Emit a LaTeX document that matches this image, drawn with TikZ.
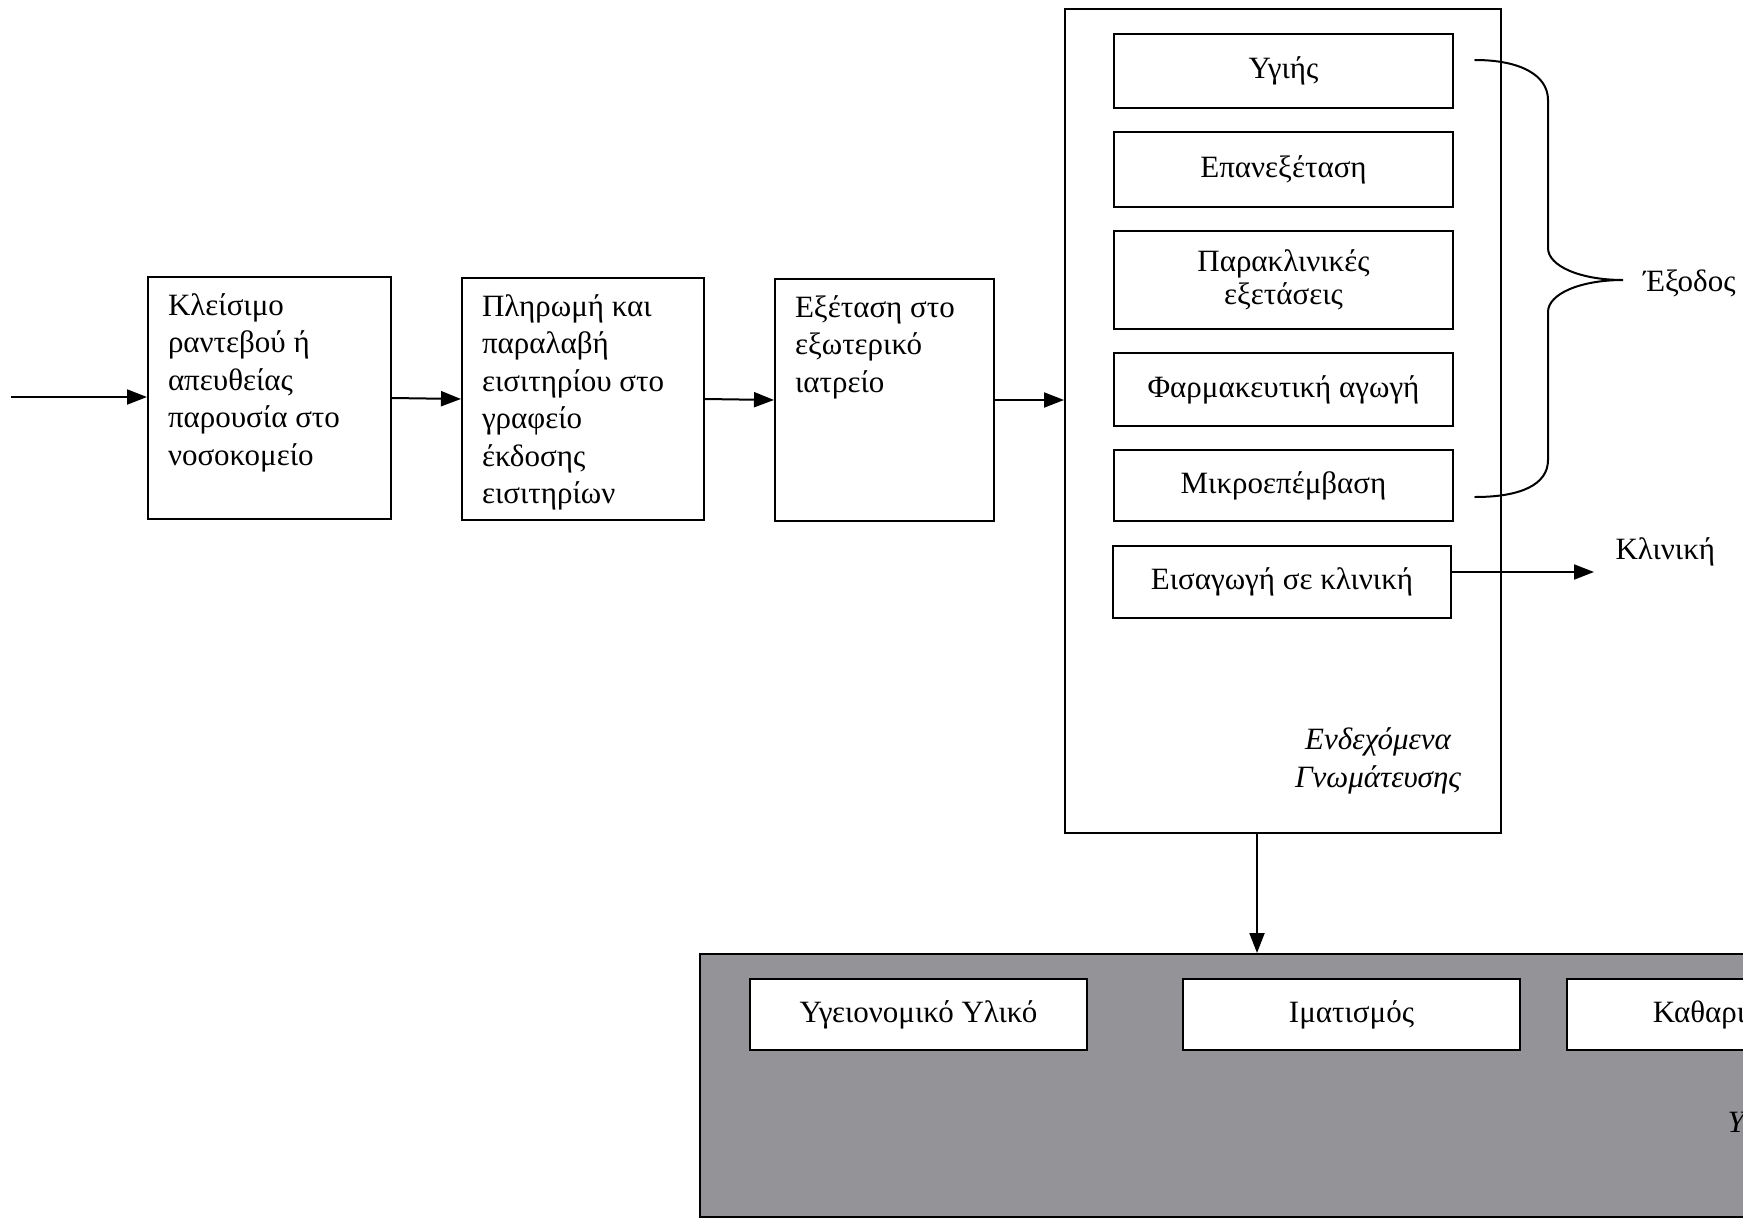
\documentclass[tikz,border=0pt]{standalone}
\usepackage{fontspec}
\setmainfont{Liberation Serif}
\usetikzlibrary{arrows.meta}
\definecolor{panelgrey}{RGB}{148,148,152}
\tikzset{
  txt/.style={font=\fontsize{31}{37.5}\selectfont},
  stepbox/.style={draw, line width=2pt, fill=white, inner xsep=20pt, inner ysep=12pt, txt},
  optbox/.style={draw, line width=2pt, fill=white, inner sep=0pt, minimum width=339pt, align=center, txt},
  flow/.style={line width=2pt, -{Triangle[length=20pt,width=15pt]}},
  brace/.style={line width=2pt, line cap=round},
}
\newcommand{\stepbody}[2]{\parbox[c][218pt][t]{#1}{\raggedright\strut #2}}
\begin{document}
\begin{tikzpicture}[x=1pt,y=-1pt]
\useasboundingbox (0,0) rectangle (1743,1218);
\clip (0,0) rectangle (1743,1218);

% process steps
\node[stepbox] (book) at (269.5,398) {\stepbody{203pt}{Κλείσιμο\\ραντεβού ή\\απευθείας\\παρουσία στο\\νοσοκομείο}};
\node[stepbox] (pay) at (583,399) {\stepbody{202pt}{Πληρωμή και\\παραλαβή\\εισιτηρίου στο\\γραφείο\\έκδοσης\\εισιτηρίων}};
\node[stepbox] (exam) at (884.5,400) {\stepbody{179pt}{Εξέταση στο\\εξωτερικό\\ιατρείο}};

% outcomes panel
\node[draw, line width=2pt, minimum width=436pt, minimum height=824pt, inner sep=0pt] (outer) at (1283,421) {};
\node[optbox, minimum height=74pt] (healthy) at (1283.5,71) {Υγιής};
\node[optbox, minimum height=75pt] (recheck) at (1283.5,169.5) {Επανεξέταση};
\node[optbox, minimum height=98pt] (tests) at (1283.5,280) {Παρακλινικές\\[-4pt]εξετάσεις};
\node[optbox, minimum height=73pt] (drugs) at (1283.5,389.5) {Φαρμακευτική αγωγή};
\node[optbox, minimum height=71pt] (minor) at (1283.5,485.5) {Μικροεπέμβαση};
\node[optbox, minimum height=72pt, minimum width=338pt] (admit) at (1282,582) {Εισαγωγή σε κλινική};
\node[txt, font=\fontsize{31}{37.5}\selectfont\itshape, align=center] (opinion) at (1378,761) {Ενδεχόμενα\\Γνωμάτευσης};

% support services panel
\node[draw, line width=2pt, fill=panelgrey, minimum width=1090pt, minimum height=263pt, inner sep=0pt] (support) at (1245,1085.5) {};
\node[optbox, minimum height=71pt, minimum width=337pt] (supplies) at (918.5,1014.5) {Υγειονομικό Υλικό};
\node[optbox, minimum height=71pt, minimum width=337pt] (linen) at (1351.5,1014.5) {Ιματισμός};
\node[optbox, minimum height=71pt, minimum width=337pt] (cleaning) at (1735.5,1014.5) {Καθαριότητα};
\node[txt, font=\fontsize{31}{37.5}\selectfont\itshape, anchor=west] (services) at (1724,1125) {Υποστηρικτικές};

% flow arrows
\coordinate (entry) at (11,397);
\draw[flow] (entry) -- (entry -| book.west);
\draw[flow] (book.east) -- (pay.west);
\draw[flow] (pay.east) -- (exam.west);
\draw[flow] (exam.east) -- (exam.east -| outer.west);
\draw[flow] ([xshift=-26pt]outer.south) -- ([xshift=-26pt]outer.south |- support.north);

% exits
\node[txt, anchor=west] (exit) at (1640,283) {Έξοδος};
\node[txt, anchor=west] (clinic) at (1612,552) {Κλινική};
\coordinate (clinicend) at (1594,572);
\draw[flow] ([yshift=10pt]admit.east) -- ([yshift=10pt]admit.east -| clinicend);

% brace grouping the discharge outcomes
\draw[brace] (1475,60) .. controls (1520,60) and (1548,75) .. (1548,100)
  -- (1548,248) .. controls (1548,266) and (1580,280) .. (1623,280)
  .. controls (1580,280) and (1548,294) .. (1548,312)
  -- (1548,460) .. controls (1548,485) and (1520,497) .. (1475,497);
\end{tikzpicture}
\end{document}
